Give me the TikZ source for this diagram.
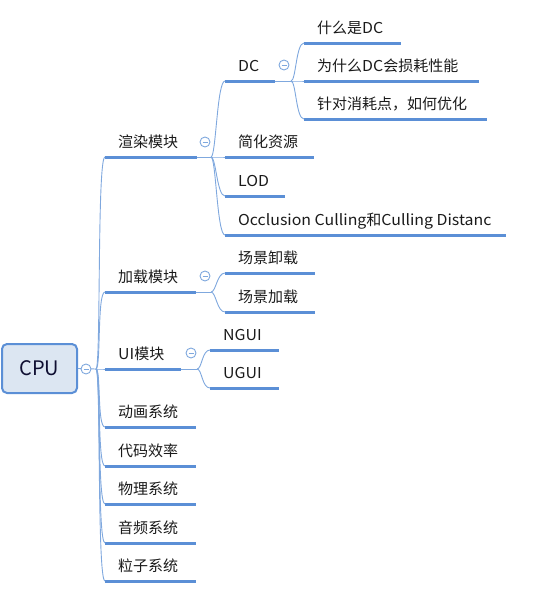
\documentclass[tikz,border=0pt]{standalone}
\usepackage{fontspec}
\setmainfont{Noto Sans CJK SC}[FakeStretch=1.06]
\newfontfamily\cjk{Noto Sans CJK SC}
\definecolor{ulblue}{HTML}{5B8FD6}
\definecolor{lnblue}{HTML}{7FA8DE}
\definecolor{cpufill}{HTML}{DCE6F2}
\definecolor{cpuline}{HTML}{5B8FD6}
\definecolor{txt}{HTML}{1A1A1A}
\usetikzlibrary{calc}
\tikzset{
  ul/.style={ulblue,line width=3pt},
  conn/.style={lnblue,line width=0.9pt},
  lbl/.style={anchor=base west,inner sep=0pt,text=txt,font=\fontsize{15}{18}\selectfont},
  fold/.style={circle,draw=lnblue,fill=white,line width=0.9pt,minimum size=10pt,inner sep=0pt,
    path picture={\draw[lnblue,line width=0.9pt] ([xshift=-2.5pt]path picture bounding box.center) -- ([xshift=2.5pt]path picture bounding box.center);}},
}
% \topic{name}{x1}{x2}{y}{text}
\newcommand\topic[5]{%
  \coordinate (#1-l) at (#2,#4);
  \coordinate (#1-r) at (#3,#4);
  \draw[ul] (#1-l) -- (#1-r);
  \node[lbl] (#1) at (#2+13,#4-10) {#5};
}
\newcommand\branch[2]{% from branch point to child left end
  \draw[conn] (#1) .. controls ($(#1)+(5,0)$) and ($(#2)+(-8,0)$) .. (#2);
}
\begin{document}
\begin{tikzpicture}[x=1pt,y=-1pt]
\useasboundingbox (0,0) rectangle (555,603);
% CPU
\node[draw=cpuline,fill=cpufill,line width=2pt,rounded corners=5pt,minimum width=75pt,minimum height=49pt,inner sep=0pt,text=txt!80!blue!70!black,font=\cjk\fontsize{20}{24}\selectfont] (cpu) at (39.5,368.5) {CPU};
\coordinate (cpu-o) at (96,369);
\draw[conn] (cpu.east) -- (cpu-o);
\node[fold] (cpu-f) at (86,369) {};

% level 1
\topic{xr}{105}{197}{157}{{\cjk 渲染模块}}
\topic{jz}{105}{196}{292}{{\cjk 加载模块}}
\topic{ui}{105}{181}{369}{UI{\cjk 模块}}
\topic{dh}{105}{196}{427}{{\cjk 动画系统}}
\topic{dm}{105}{196}{466}{{\cjk 代码效率}}
\topic{wl}{105}{196}{504}{{\cjk 物理系统}}
\topic{yp}{105}{196}{543}{{\cjk 音频系统}}
\topic{lz}{105}{196}{581}{{\cjk 粒子系统}}
\foreach \c in {xr,jz,ui,dh,dm,wl,yp,lz} {\branch{cpu-o}{\c-l}}

% 渲染模块 children
\coordinate (xr-o) at (211,157);
\draw[conn] (xr-r) -- (xr-o);
\node[fold] (xr-f) at (205,142) {};
\topic{dc}{225}{275}{81}{DC}
\topic{jh}{225}{314}{157}{{\cjk 简化资源}}
\topic{lod}{225}{285}{196}{LOD}
\topic{oc}{225}{506}{235}{Occlusion Culling{\cjk 和}Culling Distanc}
\foreach \c in {dc,jh,lod,oc} {\branch{xr-o}{\c-l}}

% DC children
\coordinate (dc-o) at (291,81);
\draw[conn] (dc-r) -- (dc-o);
\node[fold] (dc-f) at (284,65) {};
\topic{d1}{304}{401}{43}{{\cjk 什么是}DC}
\topic{d2}{304}{479}{81}{{\cjk 为什么}DC{\cjk 会损耗性能}}
\topic{d3}{304}{487}{119}{{\cjk 针对消耗点，如何优化}}
\foreach \c in {d1,d2,d3} {\branch{dc-o}{\c-l}}

% 加载模块 children
\coordinate (jz-o) at (211,292);
\draw[conn] (jz-r) -- (jz-o);
\node[fold] (jz-f) at (205,276) {};
\topic{j1}{225}{315}{273}{{\cjk 场景卸载}}
\topic{j2}{225}{315}{312}{{\cjk 场景加载}}
\foreach \c in {j1,j2} {\branch{jz-o}{\c-l}}

% UI模块 children
\coordinate (ui-o) at (197,369);
\draw[conn] (ui-r) -- (ui-o);
\node[fold] (ui-f) at (191,353) {};
\topic{u1}{210}{279}{350}{NGUI}
\topic{u2}{210}{279}{388}{UGUI}
\foreach \c in {u1,u2} {\branch{ui-o}{\c-l}}
\end{tikzpicture}
\end{document}
